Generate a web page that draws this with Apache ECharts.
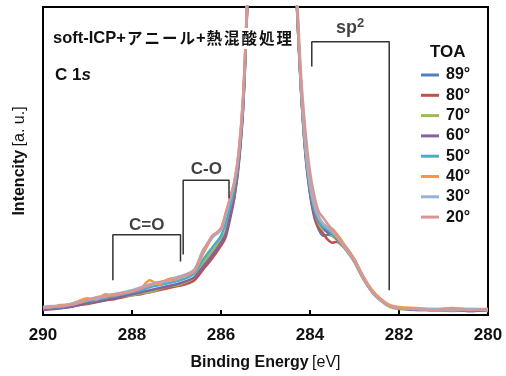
<!DOCTYPE html>
<html><head><meta charset="utf-8">
<script src="https://cdn.jsdelivr.net/npm/echarts@6/dist/echarts.min.js"></script>
<style>html,body{margin:0;padding:0;background:#fff}#c{width:506px;height:376px}</style>
</head><body><div id="c"></div>
<script>
// Binding energy (eV) sample points
const energy = [290.0,289.8,289.6,289.4,289.2,289.0,288.8,288.6,288.4,288.2,288.0,287.8,287.6,287.4,287.2,287.0,286.8,286.6,
286.4,286.2,286.0,285.9,285.8,285.7,285.6,285.5,285.4,
285.3,285.1,284.85,284.6,284.4,284.3,284.2,
284.1,284.0,283.9,283.8,283.7,283.6,283.5,283.4,283.3,283.2,283.1,283.0,282.8,282.6,282.4,282.2,282.0,
281.6,281.2,280.8,280.4,280.0];

const toaNames = ['89°','80°','70°','60°','50°','40°','30°','20°'];
const toaColors = ['#4F81BD','#C0504D','#9BBB59','#8064A2','#4BACC6','#F79646','#95B3D7','#DA9694'];

const i89 = [6,7,7,9,10,12,14,15,17,19,21,22,24,26,28,30,33,37,
50,62,74,82,100,120,155,212,325, 460,800,1000,750,420,318,226,
160,122,98,86,80,81,80,77,73,69,63,56,38,24,15,9,7, 6,5,5,5,4];
const i80 = [6,6,7,8,10,11,13,15,16,18,20,21,23,25,27,29,31,35,
46,57,70,78,96,118,152,210,322, 458,800,1000,750,418,316,224,
162,124,100,88,82,76,73,74,71,67,61,54,37,23,14,9,7, 6,5,5,4,5];
const i70 = [6,7,8,9,11,12,14,16,18,19,20,22,23,26,29,30,33,38,
52,64,76,84,102,123,158,216,328, 462,800,1000,750,420,318,226,
165,127,104,92,86,84,80,76,71,66,60,53,36,23,14,8,6, 5,5,4,5,4];
const i60 = [5,6,7,8,10,12,13,15,17,19,21,23,25,27,29,31,34,38,
49,60,73,81,99,121,156,213,326, 460,800,1000,750,420,318,227,
164,126,103,94,88,83,82,77,72,67,61,54,37,23,15,9,7, 5,5,5,4,5];
const i50 = [7,8,8,10,12,14,16,18,19,21,23,25,28,30,32,34,37,42,
56,68,80,92,108,128,160,218,330, 462,800,1000,750,422,320,228,
166,128,106,95,89,86,82,78,73,68,62,55,38,24,15,9,7, 6,5,5,5,5];
const i40 = [7,8,10,11,14,17,16,21,20,22,24,27,35,31,36,38,40,44,
62,78,88,102,118,134,165,222,333, 465,800,1000,750,422,322,230,
168,131,110,98,92,89,87,82,76,69,63,56,39,25,16,10,8, 7,6,7,6,6];
const i30 = [8,9,9,11,13,15,17,19,21,23,25,28,31,33,34,38,41,46,
66,78,86,100,116,133,164,222,332, 465,800,1000,752,424,324,232,
170,132,111,99,92,88,84,79,73,67,61,54,37,23,14,9,7, 6,6,5,6,5];
const i20 = [7,8,9,10,12,15,18,19,21,22,24,27,30,33,35,36,40,45,
64,80,87,102,117,135,166,224,335, 468,800,1000,760,432,332,242,
185,145,120,104,98,92,86,80,74,68,62,55,38,24,15,9,7, 6,5,6,5,6];
const intensities = [i89,i80,i70,i60,i50,i40,i30,i20];

// Peak-assignment brackets: [energy, intensity]
const bracketCO2 = [[288.43,35],[288.43,81],[286.91,81],[286.91,54]];
const bracketCO  = [[286.85,61],[286.85,136],[285.82,136],[285.82,118]];
const bracketSp2 = [[283.96,251],[283.96,276],[282.22,276],[282.22,25]];
const bracketLabels = [
  {value:[287.67,91], text:'C=O'},
  {value:[286.33,147], text:'C-O'},
  {value:[283.10,290], text:'{a|sp}{s|2}'}
];

const xTicks = {min:280, max:290, interval:2};
const yMax = 311;

const F = 'Liberation Sans, Arial, sans-serif';
const J = 'Noto Sans CJK JP';
const chart = echarts.init(document.getElementById('c'), null, {renderer:'canvas'});

const series = intensities.map((arr, k) => ({
  name: toaNames[k], type:'line', data: energy.map((e,i)=>[e, arr[i]]),
  showSymbol:false, symbol:'none', smooth:0.3, clip:true,
  lineStyle:{width:2.5, color:toaColors[k]}, itemStyle:{color:toaColors[k]}, z:2+k
}));
[bracketCO2, bracketCO, bracketSp2].forEach(b => series.push({
  type:'line', data:b, symbol:'none', silent:true, clip:false,
  lineStyle:{width:1.5, color:'#333'}, z:20
}));
series.push({
  type:'scatter', symbolSize:0, silent:true, clip:false, z:21,
  data: bracketLabels.map(l=>({value:l.value, text:l.text})),
  label:{show:true, position:'inside', formatter:p=>p.data.text,
    color:'#111', fontFamily:F, fontWeight:'bold', fontSize:17,
    rich:{a:{fontFamily:F,fontWeight:'bold',fontSize:18,color:'#111'},
          s:{fontFamily:F,fontWeight:'bold',fontSize:13,color:'#111',verticalAlign:'top',padding:[0,0,9,0]}}}
});

const jtok = s => s.split('').map(c=>'{j|'+c+'}').join('');

chart.setOption({
  animation:false,
  title:[
    {text:'{a|soft-ICP+}'+jtok('アニール')+'{a|+}'+jtok('熱混酸処理'), left:50, top:28, z:100,
     padding:[2,4,2,3], backgroundColor:'#fff',
     textStyle:{rich:{a:{fontFamily:F,fontWeight:'bold',fontSize:16.5,color:'#111'},
                      j:{fontFamily:J,fontSize:15.5,color:'#111',padding:[0,1,0,1]}}}},
    {text:'{a|C 1}{i|s}', left:55, top:67, z:100, padding:0,
     textStyle:{rich:{a:{fontFamily:F,fontWeight:'bold',fontSize:17,color:'#111'},
                      i:{fontFamily:F,fontWeight:'bold',fontStyle:'italic',fontSize:17,color:'#111'}}}},
    {text:'TOA', left:430, top:44, z:100, padding:0,
     textStyle:{fontFamily:F, fontWeight:'bold', fontSize:17, color:'#111'}}
  ],
  grid:{left:43, right:18, top:7, bottom:58, show:true, borderColor:'#000', borderWidth:2},
  xAxis:{type:'value', inverse:true, min:xTicks.min, max:xTicks.max, interval:xTicks.interval,
    axisLine:{show:true, onZero:false, lineStyle:{color:'#000', width:2}},
    axisTick:{show:true, inside:true, length:5, lineStyle:{color:'#000', width:2}},
    splitLine:{show:false},
    axisLabel:{color:'#111', fontFamily:F, fontWeight:'bold', fontSize:17, margin:12},
    name:'{b|Binding Energy} {n|[eV]}', nameLocation:'middle', nameGap:40,
    nameTextStyle:{rich:{b:{fontFamily:F,fontWeight:'bold',fontSize:16,color:'#111'},
                         n:{fontFamily:F,fontSize:16,color:'#111'}}}},
  yAxis:{type:'value', min:0, max:yMax,
    axisLine:{show:true, lineStyle:{color:'#000', width:2}},
    axisTick:{show:false}, axisLabel:{show:false}, splitLine:{show:false},
    name:'{b|Intencity} {n|[a. u.]}', nameLocation:'middle', nameRotate:90, nameGap:15,
    nameTextStyle:{rich:{b:{fontFamily:F,fontWeight:'bold',fontSize:16,color:'#111'},
                         n:{fontFamily:F,fontSize:16,color:'#111'}}}},
  legend:{data:toaNames, orient:'vertical', left:416, top:62, icon:'rect',
    itemWidth:18, itemHeight:3, itemGap:4.3,
    textStyle:{fontFamily:F, fontWeight:'bold', fontSize:16, color:'#111', lineHeight:16, padding:[0,0,0,2]}},
  series: series
});
</script></body></html>
